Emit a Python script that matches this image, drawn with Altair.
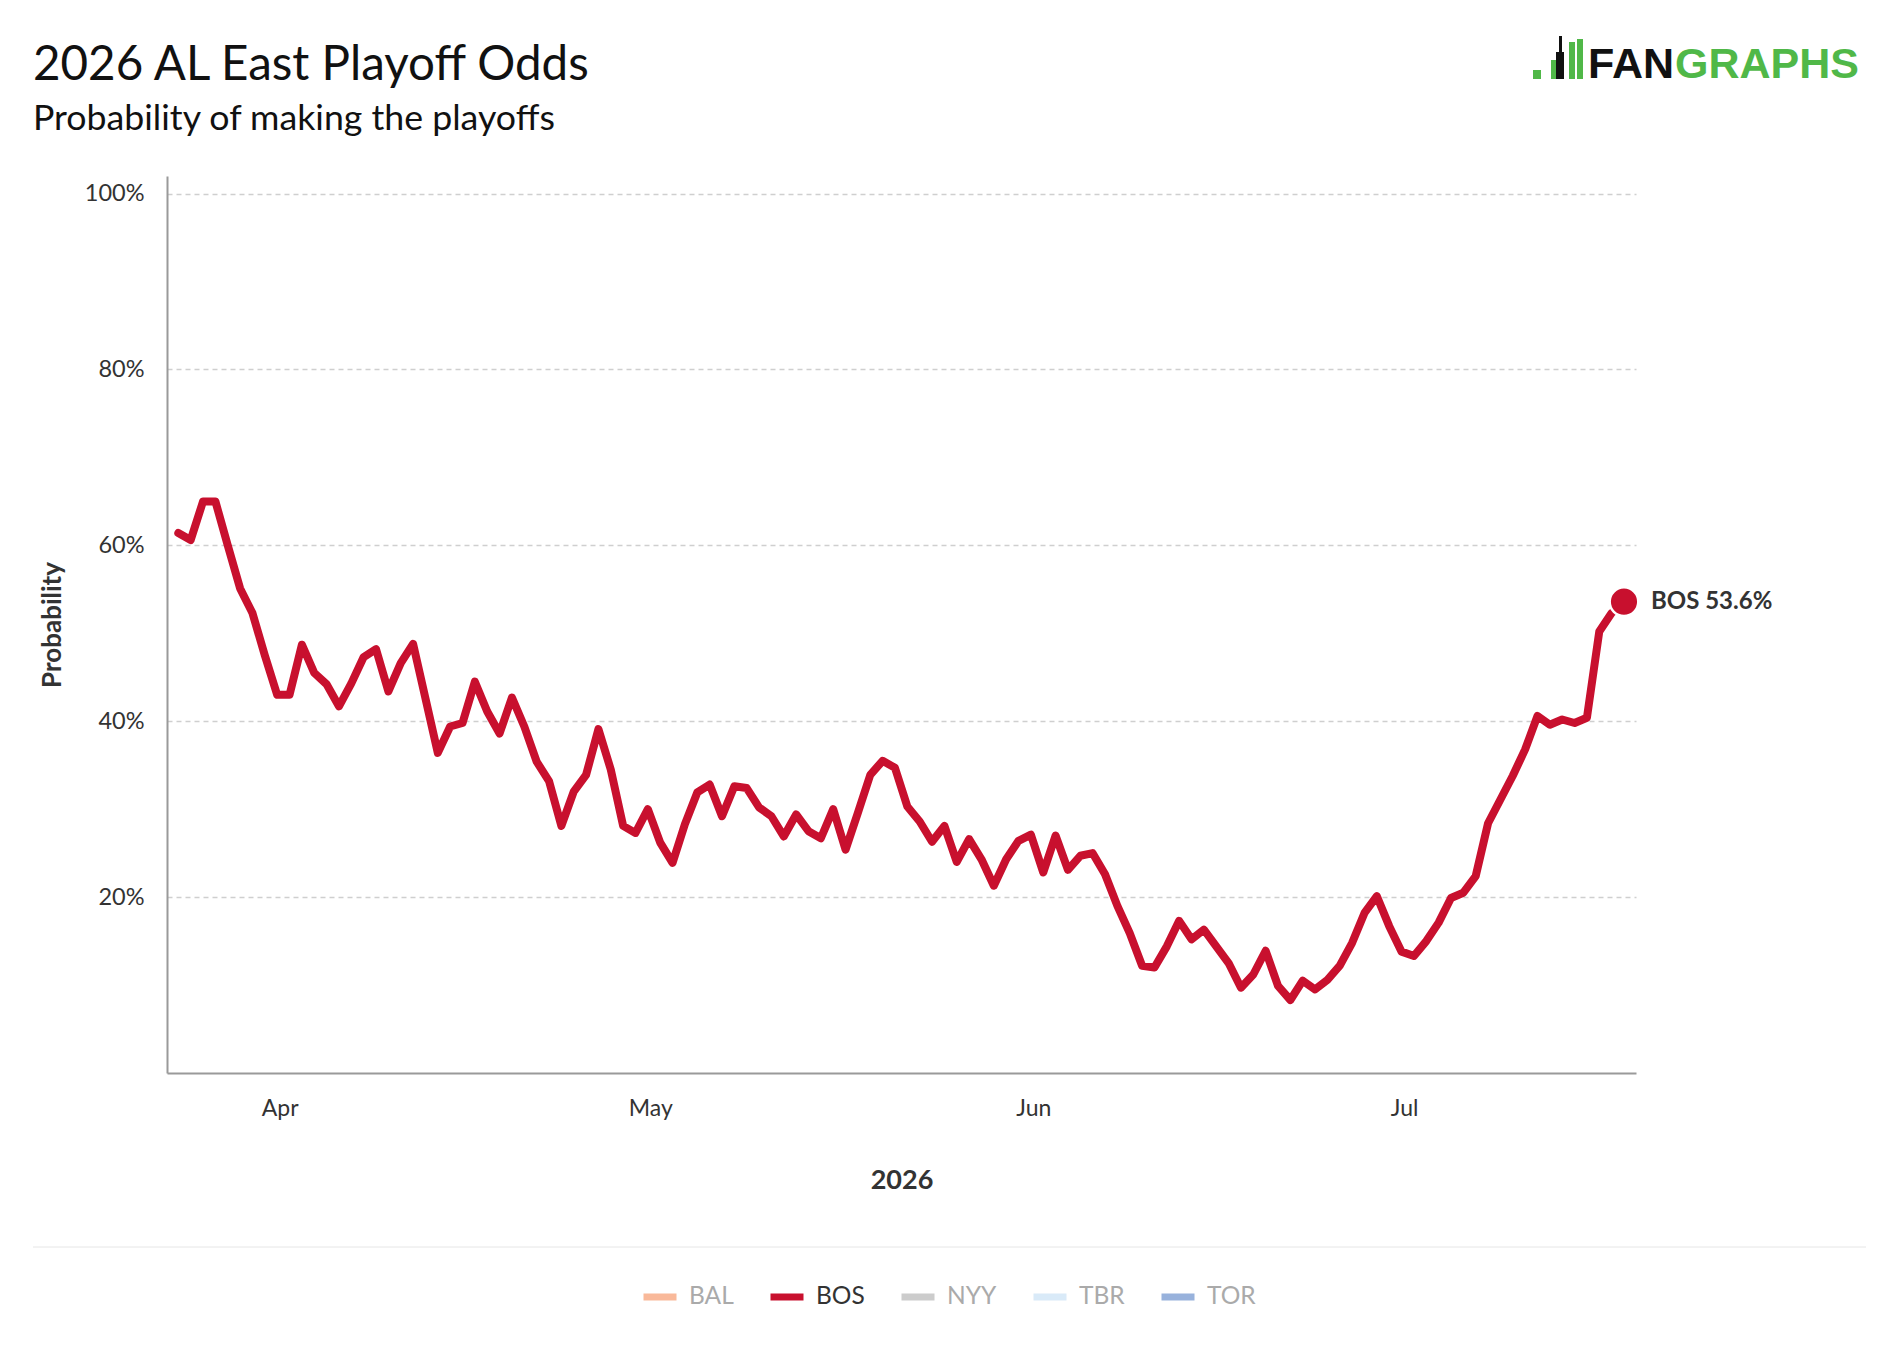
import altair as alt
import pandas as pd

# ---------------- data ----------------
teams = ["BAL", "BOS", "NYY", "TBR", "TOR"]
team_colors = ["#f9b99a", "#c8102e", "#cccccc", "#d9eaf8", "#98b2dc"]
series_team = "BOS"
start_date = "2026-03-24"
bos_values = [
    61.4, 60.6, 65.0, 65.0, 60.0, 55.1, 52.3, 47.5, 43.0, 43.0,
    48.7, 45.5, 44.2, 41.7, 44.3, 47.3, 48.2, 43.4, 46.6, 48.8,
    42.6, 36.4, 39.4, 39.8, 44.5, 41.1, 38.6, 42.7, 39.4, 35.4,
    33.2, 28.1, 32.0, 33.9, 39.1, 34.5, 28.1, 27.3, 30.0, 26.2,
    23.9, 28.3, 31.9, 32.8, 29.2, 32.6, 32.4, 30.2, 29.2, 26.9,
    29.4, 27.5, 26.7, 30.0, 25.4, 29.6, 33.9, 35.5, 34.7, 30.3,
    28.6, 26.3, 28.1, 24.0, 26.6, 24.3, 21.3, 24.3, 26.4, 27.1,
    22.8, 27.0, 23.1, 24.7, 25.0, 22.6, 19.0, 15.9, 12.2, 12.0,
    14.4, 17.3, 15.2, 16.3, 14.4, 12.5, 9.7, 11.2, 13.9, 9.9,
    8.3, 10.5, 9.5, 10.6, 12.2, 14.8, 18.2, 20.1, 16.7, 13.8,
    13.3, 15.0, 17.1, 19.9, 20.5, 22.4, 28.4, 31.1, 33.8, 36.8,
    40.6, 39.6, 40.2, 39.8, 40.4, 50.2, 52.3, 53.6,
]
title_text = "2026 AL East Playoff Odds"
subtitle_text = "Probability of making the playoffs"
y_title = "Probability"
x_title = "2026"
y_ticks = [20, 40, 60, 80, 100]
month_ticks = [4, 5, 6, 7]
logo_left = "FAN"
logo_right = "GRAPHS"

# ---------------- frames ----------------
dates = pd.date_range(start_date, periods=len(bos_values), freq="D")
df = pd.DataFrame({"date": dates, "value": bos_values, "team": series_team})
last = df.iloc[[-1]].copy()
last["label"] = last["team"] + " " + last["value"].map(lambda v: f"{v:.1f}%")
deco = pd.DataFrame({"title": [title_text], "subtitle": [subtitle_text],
                     "logo_l": [logo_left], "logo_r": [logo_right]})

FONT = "Lato"
PLOT_W, PLOT_H = 1469, 897
GREEN = "#50b848"

color_scale = alt.Scale(domain=teams, range=team_colors)

x_enc = alt.X(
    "date:T",
    title=x_title,
    scale=alt.Scale(
        domain=[alt.DateTime(year=2026, month=3, date=23, hours=2),
                alt.DateTime(year=2026, month=7, date=19, hours=23, minutes=20)],
        nice=False,
    ),
    axis=alt.Axis(
        values=[alt.DateTime(year=2026, month=m, date=1) for m in month_ticks],
        format="%b",
        grid=False,
        ticks=False,
        labelAlign="center",
        labelOffset=2.5,
        labelPadding=24,
        labelFontSize=23,
        titleFontSize=27,
        titleFontWeight="bold",
        titlePadding=47,
        domainColor="#9a9a9a",
        domainWidth=2,
    ),
)
y_enc = alt.Y(
    "value:Q",
    title=y_title,
    scale=alt.Scale(domain=[0, 102], nice=False),
    axis=alt.Axis(
        values=y_ticks,
        labelExpr="datum.value + '%'",
        grid=True,
        gridDash=[5, 4],
        gridColor="#cfcfcf",
        gridWidth=1.5,
        ticks=False,
        labelPadding=23,
        labelFontSize=23.5,
        titleFontSize=26,
        titleFontWeight="bold",
        titlePadding=19,
        domainColor="#9a9a9a",
        domainWidth=2,
    ),
)

legend = alt.Legend(
    orient="none",
    legendX=473,
    legendY=1101,
    direction="horizontal",
    title=None,
    symbolType="stroke",
    symbolSize=1089,
    symbolStrokeWidth=7,
    symbolOpacity=1,
    labelFont=FONT,
    labelFontSize=24.5,
    labelOffset=9,
    columnPadding=22,
    labelColor={"expr": "datum.label === 'BOS' ? '#333333' : '#aaaaaa'"},
)

line = alt.Chart(df).mark_line(strokeWidth=8, strokeJoin="round", strokeCap="round").encode(
    x=x_enc, y=y_enc,
    color=alt.Color("team:N", scale=color_scale, legend=legend),
)
dot = alt.Chart(last).mark_circle(size=820, opacity=1, stroke="white", strokeWidth=2.5).encode(
    x="date:T", y="value:Q",
    color=alt.Color("team:N", scale=color_scale, legend=None),
)
end_label = alt.Chart(last).mark_text(
    align="left", baseline="middle", dx=27, font=FONT, fontSize=24,
    fontWeight="bold", color="#333333",
).encode(x="date:T", y="value:Q", text="label:N")

title_layer = alt.Chart(deco).mark_text(
    align="left", baseline="alphabetic", font=FONT, fontSize=47.5, color="#111111"
).encode(text="title:N", x=alt.value(-134), y=alt.value(-96))
subtitle_layer = alt.Chart(deco).mark_text(
    align="left", baseline="alphabetic", font=FONT, fontSize=35.7, color="#111111"
).encode(text="subtitle:N", x=alt.value(-134), y=alt.value(-46))

logo_l_layer = alt.Chart(deco).mark_text(
    align="right", baseline="alphabetic", font="Liberation Sans", fontSize=43,
    fontWeight="bold", color="#111111"
).encode(text="logo_l:N", x=alt.value(1507), y=alt.value(-98))
logo_r_layer = alt.Chart(deco).mark_text(
    align="left", baseline="alphabetic", font="Liberation Sans", fontSize=43,
    fontWeight="bold", color=GREEN
).encode(text="logo_r:N", x=alt.value(1508), y=alt.value(-98))


def deco_rect(x1, x2, y1, y2, color):
    return alt.Chart(deco).mark_rect(color=color).encode(
        x=alt.value(x1), x2=alt.value(x2), y=alt.value(y1), y2=alt.value(y2)
    )


logo_marks = [
    deco_rect(1366, 1374, -106, -97, GREEN),
    deco_rect(1384, 1390, -116, -97, GREEN),
    deco_rect(1402, 1408, -134, -97, GREEN),
    deco_rect(1410, 1416, -137, -97, GREEN),
    # simplified batter silhouette
    deco_rect(1389, 1397, -124, -97, "#111111"),
    deco_rect(1392, 1395, -140, -124, "#111111"),
]

separator = alt.Chart(deco).mark_rule(color="#e6e6e6", strokeWidth=1).encode(
    x=alt.value(-134), x2=alt.value(1699), y=alt.value(1071)
)

chart = alt.layer(
    line, dot, end_label, title_layer, subtitle_layer, logo_l_layer, logo_r_layer,
    *logo_marks, separator,
).properties(
    width=PLOT_W,
    height=PLOT_H,
    autosize=alt.AutoSizeParams(type="none"),
    padding={"left": 159, "top": 168, "right": 252, "bottom": 275},
    background="white",
).configure_view(
    stroke=None
).configure_axis(
    labelFont=FONT,
    titleFont=FONT,
    labelColor="#333333",
    titleColor="#333333",
)

chart.save("out.html", embed_options={"renderer": "svg", "actions": False})
